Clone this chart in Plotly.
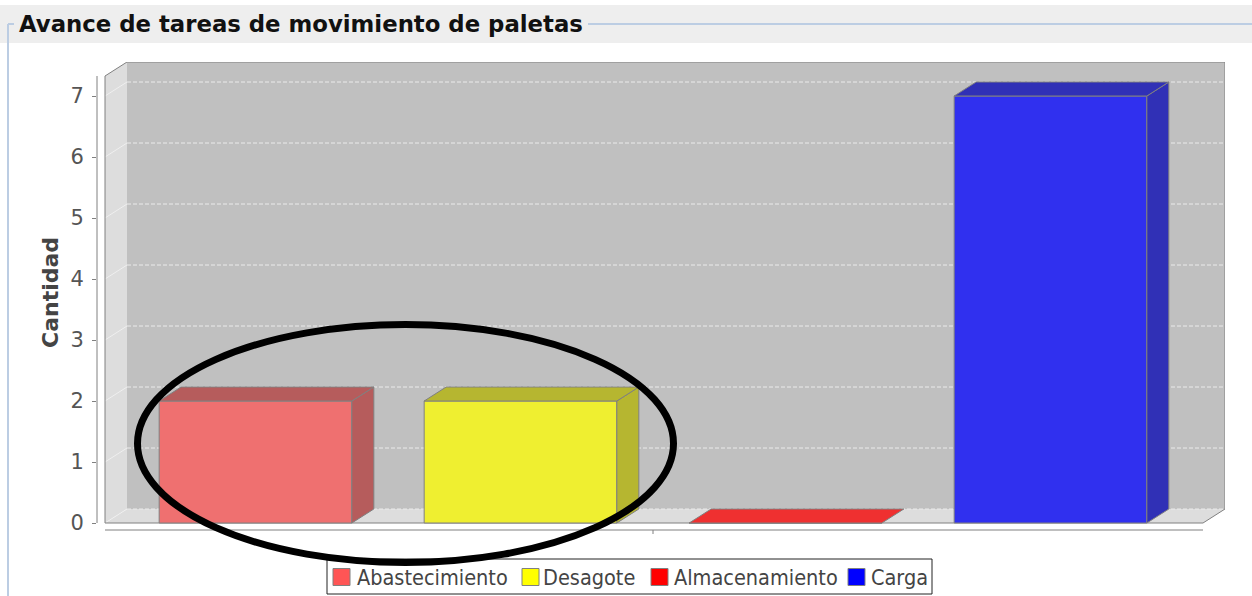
import plotly.graph_objects as go

# ---- data ----
series = ["Abastecimiento", "Desagote", "Almacenamiento", "Carga"]
cantidad = [2, 2, 0, 7]
series_colors = ["#ff5555", "#ffff00", "#ff0000", "#0000ff"]
y_ticks = [0, 1, 2, 3, 4, 5, 6, 7]

# ---- geometry (pixels of the 1252x596 page) ----
W, H = 1252, 596
PL, PR, PT, PB = 97, 1225, 62, 540      # plot area
Y0_PX, PPU_Y = 523, 61.0                # baseline and pixels per unit (y)
X0_PX, PPU_X = 255.5, 265.0             # first bar centre and pixels per slot (x)
FRONT_L_PX, FRONT_R_PX, FRONT_T_PX = 105, 1203, 76
DEPTH_X_PX, DEPTH_Y_PX = 22, 14
BAR_W = 0.727
ALPHA = 0.75
WALL_BG = (192, 192, 192)

# legend box and item positions (pixels)
LEG_BOX = (327, 559, 932, 594)
LEG_SWATCH_X = [333, 522, 651, 848]
LEG_TEXT_X = [355, 541, 672, 869]
LEG_MID_Y = 577
SWATCH = 17

x_range = [(PL - X0_PX) / PPU_X, (PR - X0_PX) / PPU_X]
y_range = [-(PB - Y0_PX) / PPU_Y, (Y0_PX - PT) / PPU_Y]
xL = (FRONT_L_PX - X0_PX) / PPU_X
xR = (FRONT_R_PX - X0_PX) / PPU_X
yTop = (Y0_PX - FRONT_T_PX) / PPU_Y
DX = DEPTH_X_PX / PPU_X
DY = DEPTH_Y_PX / PPU_Y


def px_x(p):
    return (p - PL) / (PR - PL)


def px_y(p):
    return (PB - p) / (PB - PT)


def val_y(v):
    return (v - y_range[0]) / (y_range[1] - y_range[0])


def hex_rgb(c):
    c = c.lstrip("#")
    return tuple(int(c[i:i + 2], 16) for i in (0, 2, 4))


def blend(c, factor=1.0):
    r, g, b = hex_rgb(c)
    out = []
    for ch, bg in zip((r, g, b), WALL_BG):
        ch = int(ch * factor)
        out.append(round(ALPHA * ch + (1 - ALPHA) * bg))
    return "rgb(%d,%d,%d)" % tuple(out)


def path(points):
    return "M " + " L ".join("%f,%f" % p for p in points) + " Z"


OUTLINE = "#808080"
shapes = []
annotations = []

# panel header band and titled border
shapes.append(dict(type="rect", xref="paper", yref="paper", layer="below",
                   x0=px_x(0), x1=px_x(W), y0=px_y(43), y1=px_y(5),
                   fillcolor="#eeeeee", line=dict(width=0)))
border = "#bccde3"
shapes.append(dict(type="line", xref="paper", yref="paper", layer="below",
                   x0=px_x(8), x1=px_x(14), y0=px_y(24), y1=px_y(24),
                   line=dict(color=border, width=2)))
shapes.append(dict(type="line", xref="paper", yref="paper", layer="below",
                   x0=px_x(588), x1=px_x(W), y0=px_y(24), y1=px_y(24),
                   line=dict(color=border, width=2)))
shapes.append(dict(type="line", xref="paper", yref="paper", layer="below",
                   x0=px_x(8), x1=px_x(8), y0=px_y(24), y1=px_y(H),
                   line=dict(color=border, width=2)))

# 3D box: back wall, left wall, floor
shapes.append(dict(type="path", xref="x", yref="y", layer="below",
                   path=path([(xL + DX, DY), (xR + DX, DY), (xR + DX, yTop + DY), (xL + DX, yTop + DY)]),
                   fillcolor="#c0c0c0", line=dict(width=0)))
shapes.append(dict(type="path", xref="x", yref="y", layer="below",
                   path=path([(xL, 0), (xL + DX, DY), (xL + DX, yTop + DY), (xL, yTop)]),
                   fillcolor="#dddddd", line=dict(width=0)))
shapes.append(dict(type="path", xref="x", yref="y", layer="below",
                   path=path([(xL, 0), (xR, 0), (xR + DX, DY), (xL + DX, DY)]),
                   fillcolor="#dddddd", line=dict(width=0)))

# gridlines on the back wall and the left wall
for v in y_ticks:
    shapes.append(dict(type="line", xref="x", yref="y", layer="below",
                       x0=xL + DX, x1=xR + DX, y0=v + DY, y1=v + DY,
                       line=dict(color="#ebebeb", width=1, dash="4px,2px")))
    shapes.append(dict(type="line", xref="x", yref="y", layer="below",
                       x0=xL, x1=xL + DX, y0=v, y1=v + DY,
                       line=dict(color="#efefef", width=1)))

# box outline
shapes.append(dict(type="path", xref="x", yref="y", layer="below",
                   path=path([(xL, 0), (xL, yTop), (xL + DX, yTop + DY), (xR + DX, yTop + DY),
                              (xR + DX, DY), (xR, 0)]),
                   line=dict(color=OUTLINE, width=1)))

# value axis line
shapes.append(dict(type="line", xref="paper", yref="paper",
                   x0=0, x1=0, y0=val_y(0), y1=val_y(yTop),
                   line=dict(color=OUTLINE, width=1)))

# category axis line with its single tick
cat_y = -7 / PPU_Y
shapes.append(dict(type="line", xref="x", yref="y",
                   x0=xL, x1=xR, y0=cat_y, y1=cat_y,
                   line=dict(color=OUTLINE, width=1)))
mid = (len(series) - 1) / 2
shapes.append(dict(type="line", xref="x", yref="y",
                   x0=mid, x1=mid, y0=cat_y, y1=cat_y - 4 / PPU_Y,
                   line=dict(color=OUTLINE, width=1)))

# legend: box, swatches and labels
bx0, by0, bx1, by1 = LEG_BOX
shapes.append(dict(type="rect", xref="paper", yref="paper",
                   x0=px_x(bx0), x1=px_x(bx1), y0=px_y(by1), y1=px_y(by0),
                   fillcolor="#ffffff", line=dict(color="#222222", width=1)))
for name, c, sx, tx in zip(series, series_colors, LEG_SWATCH_X, LEG_TEXT_X):
    shapes.append(dict(type="rect", xref="paper", yref="paper",
                       x0=px_x(sx), x1=px_x(sx + SWATCH),
                       y0=px_y(LEG_MID_Y + SWATCH / 2), y1=px_y(LEG_MID_Y - SWATCH / 2),
                       fillcolor=c, line=dict(color=OUTLINE, width=1)))
    annotations.append(dict(text=name, xref="paper", yref="paper",
                            x=px_x(tx), y=px_y(LEG_MID_Y), xanchor="left", yanchor="middle",
                            showarrow=False,
                            font=dict(family="DejaVu Sans Condensed, DejaVu Sans", size=21.5,
                                      color="#444444")))

# hand-drawn highlight ellipse
shapes.append(dict(type="circle", xref="paper", yref="paper",
                   x0=px_x(137.5), x1=px_x(673.5), y0=px_y(562.5), y1=px_y(324.5),
                   line=dict(color="#000000", width=7)))

fig = go.Figure()

# front faces of the bars
xs = list(range(len(series)))
fig.add_trace(go.Bar(
    x=xs, y=cantidad, width=BAR_W, showlegend=False,
    marker=dict(color=[blend(c) for c in series_colors], line=dict(color=OUTLINE, width=1)),
    hoverinfo="skip",
))

# bottom, side and top faces
for i, (v, c) in enumerate(zip(cantidad, series_colors)):
    l, r = i - BAR_W / 2, i + BAR_W / 2
    faces = []
    if v == 0:
        faces.append(([l, r, r + DX, l + DX], [0, 0, DY, DY], blend(c)))
    else:
        faces.append(([r, r + DX, r + DX, r], [0, DY, v + DY, v], blend(c, 0.7)))
        faces.append(([l, r, r + DX, l + DX], [v, v, v + DY, v + DY], blend(c, 0.7)))
    for fx, fy, fc in faces:
        fig.add_trace(go.Scatter(
            x=fx + [fx[0]], y=fy + [fy[0]], mode="lines", fill="toself",
            fillcolor=fc, line=dict(color=OUTLINE, width=1),
            showlegend=False, hoverinfo="skip",
        ))

annotations += [
    dict(text="<b>Avance de tareas de movimiento de paletas</b>", xref="paper", yref="paper",
         x=px_x(17), y=px_y(24), xanchor="left", yanchor="middle", showarrow=False,
         font=dict(family="DejaVu Sans", size=22.8, color="#111111")),
    dict(text="<b>Cantidad</b>", xref="paper", yref="paper", textangle=-90,
         x=px_x(50), y=px_y(293), xanchor="center", yanchor="middle", showarrow=False,
         font=dict(family="DejaVu Sans", size=22, color="#444444")),
]

fig.update_layout(
    width=W, height=H,
    margin=dict(l=PL, r=W - PR, t=PT, b=H - PB, pad=0),
    paper_bgcolor="#ffffff", plot_bgcolor="#ffffff",
    barmode="overlay",
    shapes=shapes,
    showlegend=False,
    xaxis=dict(range=x_range, visible=False, fixedrange=True),
    yaxis=dict(range=y_range, tickvals=y_ticks, ticks="outside", ticklen=4,
               tickcolor=OUTLINE, showgrid=False, zeroline=False, showline=False,
               ticklabelstandoff=4,
               tickfont=dict(family="DejaVu Sans", size=21, color="#555555")),
    annotations=annotations,
)

fig.write_html("out.html")
